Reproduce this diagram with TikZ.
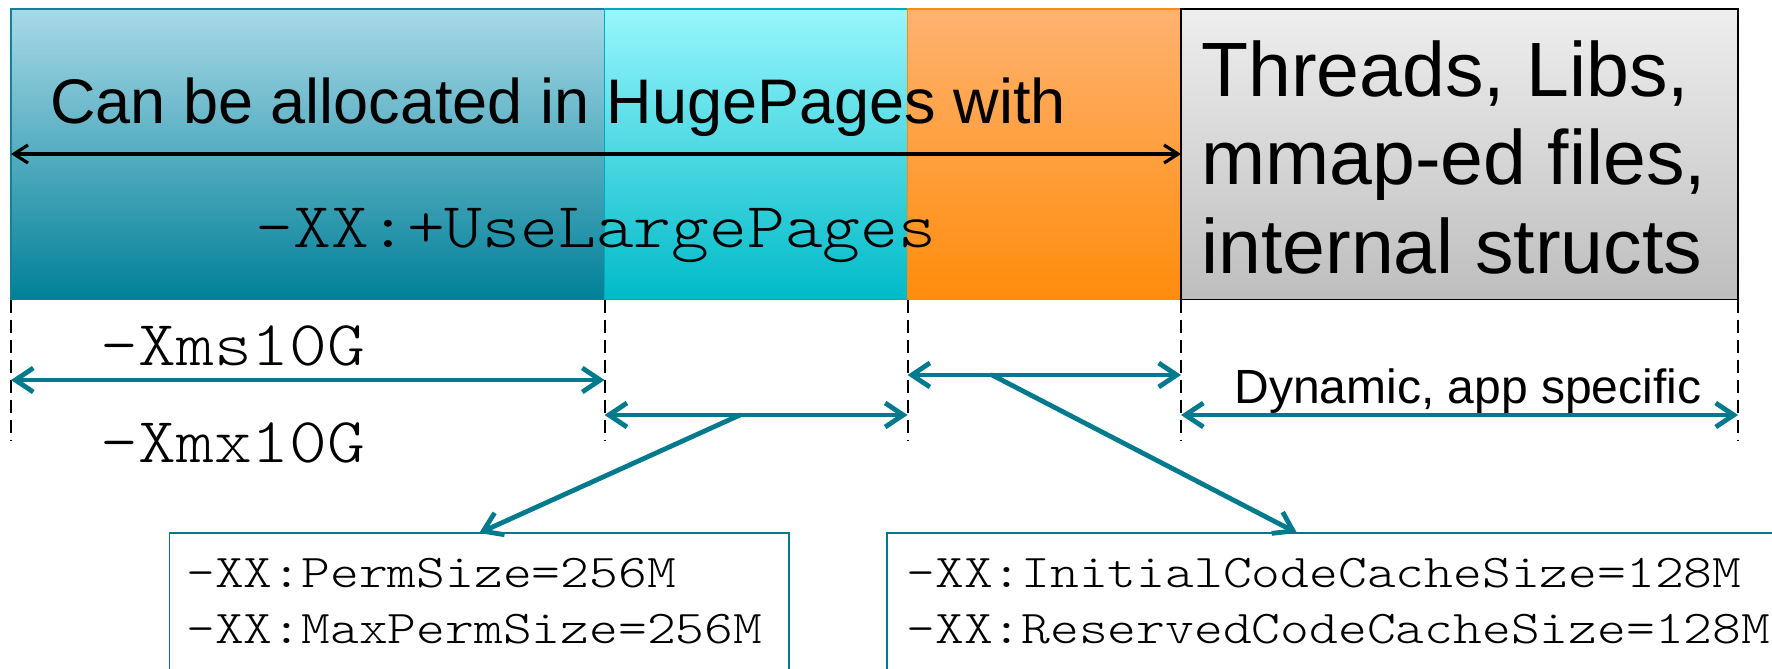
\documentclass[tikz,border=0pt]{standalone}
\usepackage{fontspec}
\setmainfont{Liberation Sans}
\newfontfamily\cmono[FakeStretch=1.125]{lmmonolt10-regular.otf}
\newfontfamily\cmonob[FakeStretch=1.167]{lmmonolt10-regular.otf}
\usetikzlibrary{arrows.meta,calc}
\definecolor{tealline}{RGB}{0,122,140}
\definecolor{bluetop}{RGB}{168,217,232}
\definecolor{bluebot}{RGB}{0,128,152}
\definecolor{blueedge}{RGB}{20,130,150}
\definecolor{cyantop}{RGB}{152,246,252}
\definecolor{cyanbot}{RGB}{0,186,200}
\definecolor{cyanedge}{RGB}{0,170,185}
\definecolor{orangetop}{RGB}{255,178,112}
\definecolor{orangebot}{RGB}{255,140,12}
\definecolor{graytop}{RGB}{238,238,238}
\definecolor{graybot}{RGB}{190,190,190}
\begin{document}
\begin{tikzpicture}[x=0.5pt,y=-0.5pt,
  seg/.style={anchor=north west, inner sep=0pt, outer sep=0pt, minimum height=145.25pt, line width=0.6pt},
  dashline/.style={draw=black, line width=1pt, dash pattern=on 6.5pt off 3.5pt},
  tarrow/.style={draw=tealline, line width=2.4pt, line cap=round, {Straight Barb[length=9pt,width=12pt]}-{Straight Barb[length=9pt,width=12pt]}},
  tpoint/.style={draw=tealline, line width=2.4pt, line cap=round, -{Straight Barb[length=9pt,width=12pt]}},
  barrow/.style={draw=black, line width=1.6pt, {Straight Barb[length=7pt,width=9pt]}-{Straight Barb[length=7pt,width=9pt]}},
  cbox/.style={draw=tealline, line width=0.8pt, anchor=north west, inner sep=0pt, outer sep=0pt},
  bigsans/.style={font=\fontsize{31.5}{36}\selectfont, inner sep=0pt},
  bigmono/.style={font=\cmono\fontsize{32}{36}\selectfont, inner sep=0pt},
  boxmono/.style={font=\cmonob\fontsize{23.5}{28}\selectfont, inner sep=0pt, anchor=base west},
]
\useasboundingbox (0,0) rectangle (1772,669);
\clip (0,0) rectangle (1772,669);

% memory segments
\node[seg, draw=blueedge, top color=bluetop, bottom color=bluebot, minimum width=296.8pt] (blue) at (11,9) {};
\node[seg, draw=cyanedge, top color=cyantop, bottom color=cyanbot, minimum width=151.45pt] (cyan) at (604.6,9) {};
\node[seg, draw=orangebot, top color=orangetop, bottom color=orangebot, minimum width=136.75pt] (orange) at (907.5,9) {};
\node[seg, draw=black, top color=graytop, bottom color=graybot, minimum width=278.5pt] (gray) at (1181,9) {};

% texts in the band
\node[bigsans, anchor=base] (hugetxt) at (558,123) {Can be allocated in HugePages with};
\node[bigmono, anchor=base] (largetxt) at (596,247) {-XX:+UseLargePages};
\node[font=\fontsize{38.5}{44.25}\selectfont, align=left, anchor=north west, inner sep=0pt] (graytxt) at (1201,40) {Threads, Libs,\\mmap-ed files,\\internal structs};

% black arrow
\coordinate (bl) at (blue.west |- 0,154);
\coordinate (br) at (gray.west |- 0,154);
\draw[barrow] (bl) -- (br);

% dashed boundaries
\coordinate (d0) at (blue.south west |- 0,441);
\coordinate (d1) at (cyan.south west |- 0,441);
\coordinate (d2) at (orange.south west |- 0,441);
\coordinate (d3) at (gray.south west |- 0,441);
\coordinate (d4) at (gray.south east |- 0,441);
\draw[dashline] (blue.south west) -- (d0);
\draw[dashline] (cyan.south west) -- (d1);
\draw[dashline] (orange.south west) -- (d2);
\draw[dashline] (gray.south west) -- (d3);
\draw[dashline] (gray.south east) -- (d4);

% size arrows
\coordinate (a1l) at (blue.west |- 0,380);
\coordinate (a1r) at (blue.east |- 0,380);
\coordinate (a2l) at (cyan.west |- 0,415);
\coordinate (a2r) at (cyan.east |- 0,415);
\coordinate (a3l) at (orange.west |- 0,375);
\coordinate (a3r) at (orange.east |- 0,375);
\coordinate (a4l) at (gray.west |- 0,415);
\coordinate (a4r) at (gray.east |- 0,415);
\draw[tarrow] (a1l) -- (a1r);
\draw[tarrow] (a2l) -- (a2r);
\draw[tarrow] (a3l) -- (a3r);
\draw[tarrow] (a4l) -- (a4r);

\node[bigmono, anchor=base] (xms) at (233,365) {-Xms10G};
\node[bigmono, anchor=base] (xmx) at (233,462) {-Xmx10G};
\node[font=\fontsize{24}{28}\selectfont, inner sep=0pt, anchor=base] (dyn) at (1468,403) {Dynamic, app specific};

% option boxes
\node[cbox, minimum width=309.75pt, minimum height=90pt] (permbox) at (169.5,533) {};
\node[cbox, minimum width=460pt, minimum height=90pt] (codebox) at (887,533) {};
\coordinate (codetop) at ($(codebox.north west)+(410,0)$);

\node[boxmono] (perm1) at (186,587) {-XX:PermSize=256M};
\node[boxmono] (perm2) at (186,643) {-XX:MaxPermSize=256M};
\node[boxmono] (code1) at (906,587) {-XX:InitialCodeCacheSize=128M};
\node[boxmono] (code2) at (906,643) {-XX:ReservedCodeCacheSize=128M};

% pointers
\draw[tpoint] ($(a2l)!0.447!(a2r)$) -- (permbox.north);
\draw[tpoint] ($(a3l)!0.309!(a3r)$) -- (codetop);
\end{tikzpicture}
\end{document}
